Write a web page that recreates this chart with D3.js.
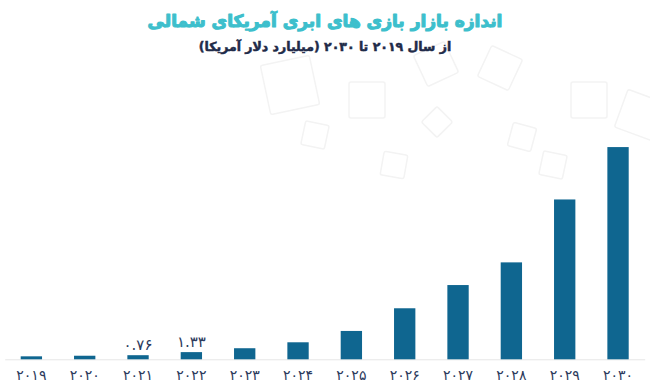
<!DOCTYPE html>
<html lang="fa">
<head>
<meta charset="utf-8">
<script src="https://cdn.jsdelivr.net/npm/d3@7"></script>
<style>
  body { margin: 0; background: #fff; }
  svg { display: block; font-family: "DejaVu Sans", sans-serif; }
</style>
</head>
<body>
<div class="svg-container"></div>
<script>
// chart data
const years = ['2019', '2020', '2021', '2022', '2023', '2024', '2025', '2026', '2027', '2028', '2029', '2030'];
const yearLabels = ['۲۰۱۹', '۲۰۲۰', '۲۰۲۱', '۲۰۲۲', '۲۰۲۳', '۲۰۲۴', '۲۰۲۵', '۲۰۲۶', '۲۰۲۷', '۲۰۲۸', '۲۰۲۹', '۲۰۳۰'];
const marketSize = [0.55, 0.66, 0.76, 1.33, 2.05, 3.15, 5.25, 9.45, 13.75, 17.95, 29.6, 39.3];
const valueLabels = ['', '', '۰.۷۶', '۱.۳۳', '', '', '', '', '', '', '', ''];

const title = 'اندازه بازار بازی های ابری آمریکای شمالی';
const subtitle = 'از سال ۲۰۱۹ تا ۲۰۳۰ (میلیارد دلار آمریکا)';

const width = 650, height = 390;
const margin = {top: 143.3, right: 5.3, bottom: 30.7, left: 4.7};

const data = years.map((y, i) => ({year: y, label: yearLabels[i], value: marketSize[i], text: valueLabels[i]}));

const svg = d3.select('.svg-container')
  .append('svg')
  .attr('width', width)
  .attr('height', height);

// faint decorative squares in the background
const deco = [
  [367, 100, 36, 0], [589, 100, 36, 0], [437, 122, 22, 45], [315, 135, 24, 12],
  [522, 137, 24, 15], [394, 165, 24, 10], [553, 165, 24, 12], [290, 85, 50, -12],
  [500, 68, 34, 25], [436, 64, 34, -25], [640, 115, 40, 20]
];
svg.append('g')
  .attr('class', 'deco')
  .selectAll('rect')
  .data(deco)
  .join('rect')
  .attr('x', d => -d[2] / 2)
  .attr('y', d => -d[2] / 2)
  .attr('width', d => d[2])
  .attr('height', d => d[2])
  .attr('rx', 2)
  .attr('transform', d => `translate(${d[0]},${d[1]}) rotate(${d[3]})`)
  .attr('fill', 'none')
  .attr('stroke', '#f3f3f3')
  .attr('stroke-width', 1.5);

const x = d3.scaleBand()
  .domain(years)
  .range([margin.left, width - margin.right])
  .paddingInner(0.6)
  .paddingOuter(0.3);

const y = d3.scaleLinear()
  .domain([0, 40])
  .range([height - margin.bottom, margin.top]);

// titles
svg.append('text')
  .attr('x', width / 2)
  .attr('y', 27)
  .attr('text-anchor', 'middle')
  .attr('direction', 'rtl')
  .style('font-size', '17px')
  .style('font-weight', 'bold')
  .attr('fill', '#3dbfcc')
  .attr('stroke', '#3dbfcc')
  .attr('stroke-width', 1.1)
  .attr('stroke-linejoin', 'round')
  .text(title);

svg.append('text')
  .attr('x', width / 2)
  .attr('y', 51)
  .attr('text-anchor', 'middle')
  .attr('direction', 'rtl')
  .style('font-size', '12.5px')
  .style('font-weight', 'bold')
  .attr('fill', '#1f2b49')
  .attr('stroke', '#1f2b49')
  .attr('stroke-width', 0.5)
  .text(subtitle);

// baseline
const xAxis = d3.axisBottom(x).tickSize(0).tickFormat((d, i) => yearLabels[i]);
const xAxisDraw = svg.append('g')
  .attr('class', 'x axis')
  .attr('transform', `translate(0, ${y(0)})`)
  .call(xAxis);
xAxisDraw.select('.domain').attr('stroke', '#e6e6e6').attr('stroke-width', 1);
xAxisDraw.selectAll('text')
  .attr('dy', '0')
  .attr('y', 21)
  .style('font-size', '14px')
  .style('font-family', '"DejaVu Sans", sans-serif')
  .attr('fill', '#2c3a5c');

// bars
svg.append('g')
  .attr('class', 'bars')
  .selectAll('rect')
  .data(data)
  .join('rect')
  .attr('x', d => x(d.year))
  .attr('y', d => y(d.value))
  .attr('width', x.bandwidth())
  .attr('height', d => y(0) - y(d.value))
  .attr('fill', '#0f6690');

// value labels
svg.append('g')
  .attr('class', 'labels')
  .selectAll('text')
  .data(data.filter(d => d.text))
  .join('text')
  .attr('x', d => x(d.year) + x.bandwidth() / 2)
  .attr('y', d => y(d.value) - 5)
  .attr('text-anchor', 'middle')
  .style('font-size', '15px')
  .attr('fill', '#2c3a5c')
  .text(d => d.text);
</script>
</body>
</html>
